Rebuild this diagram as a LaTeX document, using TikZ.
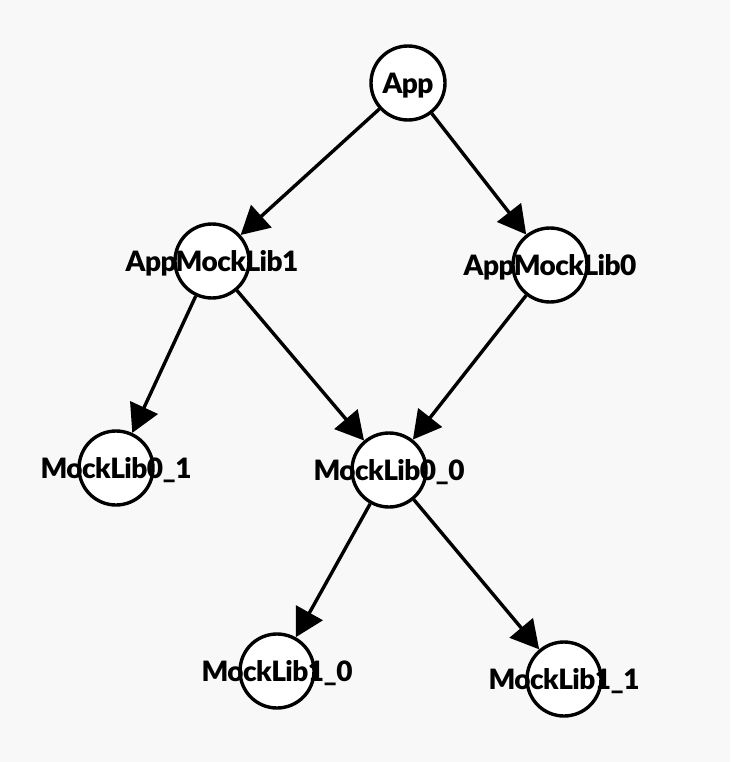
\documentclass[tikz,border=0pt]{standalone}
\usepackage{fontspec}
\setmainfont{Lato}[BoldFont={Lato Black},BoldFeatures={LetterSpace=-2}]
\usetikzlibrary{arrows.meta}
\definecolor{bg}{RGB}{248,248,248}
\begin{document}
\begin{tikzpicture}[x=1pt,y=-1pt,
  dep/.style={circle, draw=black, line width=3.4pt, fill=white, minimum size=74pt, inner sep=0pt},
  lbl/.style={font=\bfseries\fontsize{28}{30}\selectfont, inner sep=0pt, anchor=base, yshift=-10.5pt},
  edge/.style={line width=3.4pt, -{Triangle[length=28pt,width=30pt]}}]
\fill[bg] (0,0) rectangle (730,762);
\useasboundingbox (0,0) rectangle (730,762);
\node[dep] (app) at (408,83) {};
\node[dep] (aml1) at (212,261) {};
\node[dep] (aml0) at (550,265) {};
\node[dep] (ml01) at (116,468) {};
\node[dep] (ml00) at (389,470) {};
\node[dep] (ml10) at (277,671) {};
\node[dep] (ml11) at (564,679) {};
\draw[edge] (app) -- (aml1);
\draw[edge] (app) -- (aml0);
\draw[edge] (aml1) -- (ml01);
\draw[edge] (aml1) -- (ml00);
\draw[edge] (aml0) -- (ml00);
\draw[edge] (ml00) -- (ml10);
\draw[edge] (ml00) -- (ml11);
\node[lbl] (tapp) at (app) {App};
\node[lbl] (taml1) at (aml1) {AppMockLib1};
\node[lbl] (taml0) at (aml0) {AppMockLib0};
\node[lbl] (tml01) at (ml01) {MockLib0\_1};
\node[lbl] (tml00) at (ml00) {MockLib0\_0};
\node[lbl] (tml10) at (ml10) {MockLib1\_0};
\node[lbl] (tml11) at (ml11) {MockLib1\_1};
\end{tikzpicture}
\end{document}
